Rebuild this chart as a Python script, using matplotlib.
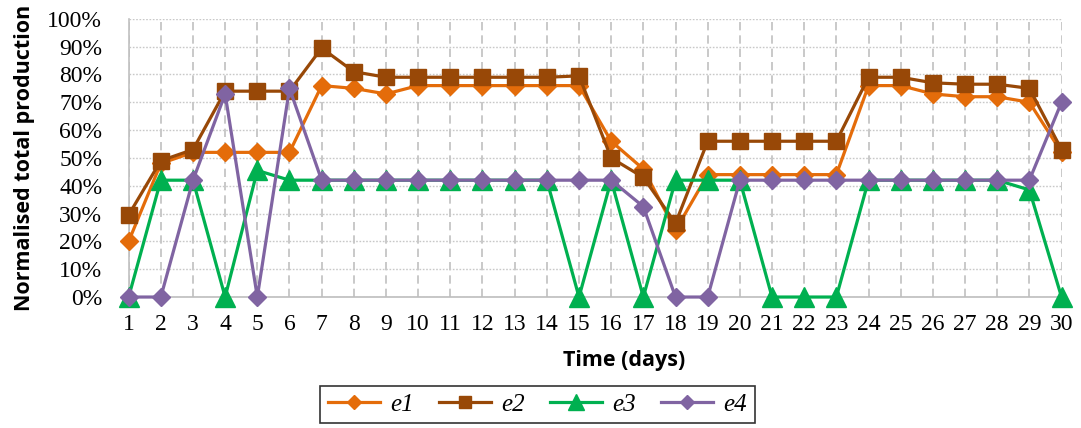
import matplotlib.pyplot as plt
from matplotlib.ticker import PercentFormatter

# Normalised total production per engine over 30 days (percent)
days = list(range(1, 31))
e1 = [20, 48, 52, 52, 52, 52, 76, 75, 73, 76, 76, 76, 76, 76, 76,
      56, 46, 24, 44, 44, 44, 44, 44, 76, 76, 73, 72, 72, 70, 52]
e2 = [29.5, 49, 53, 74, 74, 74, 89.5, 81, 79, 79, 79, 79, 79, 79, 79.5,
      50, 43, 26.5, 56, 56, 56, 56, 56, 79, 79, 77, 76.5, 76.5, 75, 53]
e3 = [0, 42, 42, 0, 45.5, 42, 42, 42, 42, 42, 42, 42, 42, 42, 0,
      42, 0, 42, 42, 42, 0, 0, 0, 42, 42, 42, 42, 42, 38.5, 0]
e4 = [0, 0, 42, 73, 0, 75, 42, 42, 42, 42, 42, 42, 42, 42, 42,
      42, 32.5, 0, 0, 42, 42, 42, 42, 42, 42, 42, 42, 42, 42, 70]

series = [
    ('e1', e1, '#E46C0A', 'D', 9),
    ('e2', e2, '#984807', 's', 11),
    ('e3', e3, '#00B050', '^', 14),
    ('e4', e4, '#8064A2', 'D', 9),
]

serif = 'Liberation Serif'

fig = plt.figure(figsize=(10.81, 4.28), dpi=100)
ax = fig.add_axes([0.119, 0.306, 0.863, 0.650])

for name, vals, col, mk, ms in series:
    ax.plot(days, vals, color=col, linewidth=2.3, marker=mk, markersize=ms,
            label=name, clip_on=False, zorder=3)

ax.set_xlim(1, 30)
ax.set_ylim(0, 100)
ax.set_xticks(days)
ax.set_yticks(range(0, 101, 10))
ax.yaxis.set_major_formatter(PercentFormatter(decimals=0))

# dotted horizontal grid, dashed vertical grid
ax.grid(axis='y', color='#C8C8C8', linestyle=(0, (1.2, 1.2)), linewidth=1)
ax.grid(axis='x', color='#C0C0C0', linestyle=(0, (5, 3)), linewidth=1.2)
ax.set_axisbelow(True)

for side in ('top', 'right'):
    ax.spines[side].set_visible(False)
ax.spines['left'].set_color('#C0C0C0')
ax.spines['bottom'].set_color('#BEBEBE')
ax.spines['left'].set_linewidth(1.2)
ax.spines['bottom'].set_linewidth(1.2)

ax.tick_params(axis='both', length=0, labelsize=17)
ax.tick_params(axis='y', pad=19)
ax.tick_params(axis='x', pad=12)
for lbl in ax.get_xticklabels() + ax.get_yticklabels():
    lbl.set_fontfamily(serif)

ax.set_ylabel('Normalised total production', fontsize=15.5, fontweight='bold',
              family='Open Sans')
ax.yaxis.set_label_coords(-0.100, 0.5)
fig.text(0.577, 0.158, 'Time (days)', fontsize=15.5, fontweight='bold',
         family='Open Sans', ha='center', va='center')

leg = fig.legend(loc='center', bbox_to_anchor=(0.497, 0.055), ncol=4,
                 frameon=True, fancybox=False, edgecolor='black',
                 prop={'family': serif, 'style': 'italic', 'size': 18},
                 handlelength=2.1, columnspacing=1.0, handletextpad=0.4,
                 borderpad=0.3, markerscale=0.8)
leg.get_frame().set_linewidth(1.2)

fig.savefig('out.png', dpi=100)
